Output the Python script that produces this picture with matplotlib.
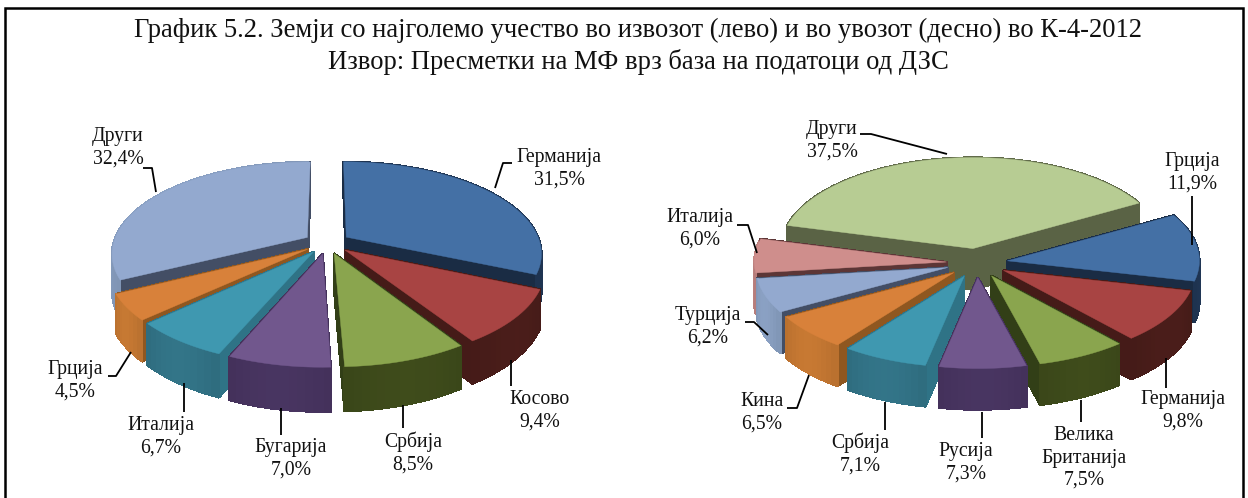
import numpy as np
import matplotlib
matplotlib.use("Agg")
import matplotlib.pyplot as plt
from matplotlib.colors import to_rgb

# ---------- data ----------
title_lines = ["График 5.2. Земји со најголемо учество во извозот (лево) и во увозот (десно) во К-4-2012",
               "Извор: Пресметки на МФ врз база на податоци од ДЗС"]

export_names = ["Германија", "Косово", "Србија", "Бугарија", "Италија", "Грција", "Други"]
export_values = [31.5, 9.4, 8.5, 7.0, 6.7, 4.5, 32.4]

import_names = ["Грција", "Германија", "Велика\nБританија", "Русија", "Србија", "Кина", "Турција", "Италија", "Други"]
import_values = [11.9, 9.8, 7.5, 7.3, 7.1, 6.5, 6.2, 6.0, 37.5]

# ---------- styles: (top, rim, radial face) ----------
BLUE = ("#4470A5", "#1E3350", "#1A2C44")
RED = ("#A84443", "#451B18", "#451B18")
GREEN = ("#8AA54E", "#3A4619", "#323F17")
PURPLE = ("#71578D", "#43315A", "#43315A")
TEAL = ("#3F98B0", "#2F6C7E", "#2F7386")
ORANGE = ("#D8813A", "#B8702F", "#8F5720")
LBLUE = ("#93A9CF", "#8095B5", "#434E65")
PINK = ("#CF8E8C", "#B47C7A", "#5C3636")
LGREEN = ("#B7CC93", "#5A6345", "#5A6345")

export_styles = [BLUE, RED, GREEN, PURPLE, TEAL, ORANGE, LBLUE]
import_styles = [BLUE, RED, GREEN, PURPLE, TEAL, ORANGE, LBLUE, PINK, LGREEN]

export_view = dict(cx=327, cy=243, R=194, Rk=90, persp=0.17, depth=36, explode=0.12, start=0)
import_view = dict(cx=977, cy=263, R=192, Rk=91, persp=0.0, depth=41, explode=0.16, start=60)

# label centres and leader paths in figure pixels
export_label_pos = [(559, 169), (540, 411), (413, 453), (291, 459), (161, 437), (75, 381), (118, 148)]
export_leaders = [[(495, 188), (503, 163), (512, 163)], [(511, 360), (511, 386)], [(403, 405), (403, 428)],
                  [(281, 408), (281, 435)], [(184, 383), (184, 412)],
                  [(131, 352), (116, 376), (108, 376)], [(156, 192), (152, 168), (143, 168)]]
import_label_pos = [(1192, 173), (1183, 411), (1084, 458), (966, 463), (860, 454), (762, 413), (708, 327), (700, 229), (832, 141)]
import_leaders = [[(1192, 245), (1192, 196)], [(1166, 358), (1166, 388)], [(1081, 400), (1081, 422)],
                  [(982, 412), (982, 438)], [(885, 402), (885, 430)], [(809, 375), (797, 408), (787, 408)],
                  [(768, 335), (754, 322), (745, 322)], [(757, 253), (748, 225), (737, 225)],
                  [(947, 154), (871, 134), (860, 134)]]

SERIF = ["Liberation Serif", "DejaVu Serif"]

fig = plt.figure(figsize=(12.48, 4.98), dpi=100, facecolor="white")
ax = fig.add_axes([0, 0, 1, 1])
ax.set_xlim(0, 1248)
ax.set_ylim(498, 0)
ax.axis("off")


def shade(color, f):
    return tuple(min(1.0, c * f) for c in to_rgb(color))


def project(view, X, Y, z):
    p = 1.0 / (1.0 + view["persp"] * Y)
    return (view["cx"] + view["R"] * X * p,
            view["cy"] - view["Rk"] * Y * p + view["depth"] * z * p)


def draw_pie(values, styles, view):
    vals = np.asarray(values, float)
    frac = vals / vals.sum()
    edges = view["start"] + 360 * np.concatenate([[0], np.cumsum(frac)])
    items = []
    for i in range(len(vals)):
        th = np.radians(np.linspace(edges[i], edges[i + 1], max(4, int(frac[i] * 200))))
        mid = np.radians((edges[i] + edges[i + 1]) / 2)
        ox, oy = view["explode"] * np.sin(mid), view["explode"] * np.cos(mid)
        items.append((oy, i, th, ox, oy))
    for _, i, th, ox, oy in sorted(items, key=lambda t: -t[0]):
        top, rim, face = styles[i]
        X = ox + np.sin(th)
        Y = oy + np.cos(th)
        polys = []
        for end in (0, -1):
            quad = [(ox, oy, 0), (X[end], Y[end], 0), (X[end], Y[end], 1), (ox, oy, 1)]
            polys.append(((oy + Y[end]) / 2 + 0.02, quad, face))
        for j in range(len(th) - 1):
            quad = [(X[j], Y[j], 0), (X[j + 1], Y[j + 1], 0), (X[j + 1], Y[j + 1], 1), (X[j], Y[j], 1)]
            f = 1.0 + 0.08 * np.sin(np.pi * (j + 0.5) / (len(th) - 1))
            polys.append(((Y[j] + Y[j + 1]) / 2, quad, shade(rim, f)))
        for _, quad, col in sorted(polys, key=lambda t: -t[0]):
            pts = [project(view, *q) for q in quad]
            ax.fill(*zip(*pts), facecolor=col, edgecolor=col, linewidth=1.0, antialiased=False, zorder=2)
        pts = [project(view, ox, oy, 0)] + [project(view, a, b, 0) for a, b in zip(X, Y)]
        ax.fill(*zip(*pts), facecolor=top, edgecolor=top, linewidth=0.3, zorder=2)


def draw_labels(names, values, positions, leaders):
    for n, v, pos, path in zip(names, values, positions, leaders):
        ax.plot(*zip(*path), color="black", lw=1.3, zorder=3, solid_capstyle="butt")
        txt = n + "\n" + f"{v:.1f}".replace(".", ",") + "%"
        ax.text(pos[0], pos[1], txt, ha="center", va="center", fontsize=14.2, family=SERIF,
                color="#111111", linespacing=1.24, zorder=4)


draw_pie(export_values, export_styles, export_view)
draw_pie(import_values, import_styles, import_view)
draw_labels(export_names, export_values, export_label_pos, export_leaders)
draw_labels(import_names, import_values, import_label_pos, import_leaders)

ax.text(638, 30, title_lines[0], ha="center", va="center", fontsize=19.2, family=SERIF, color="#111111")
ax.text(638, 62, title_lines[1], ha="center", va="center", fontsize=19.2, family=SERIF, color="#111111")

# frame open at the bottom
ax.plot([5, 5, 1243, 1243], [498, 8, 8, 498], color="black", lw=1.8, zorder=5, solid_joinstyle="miter")

fig.savefig("out.png", dpi=100, facecolor="white")
